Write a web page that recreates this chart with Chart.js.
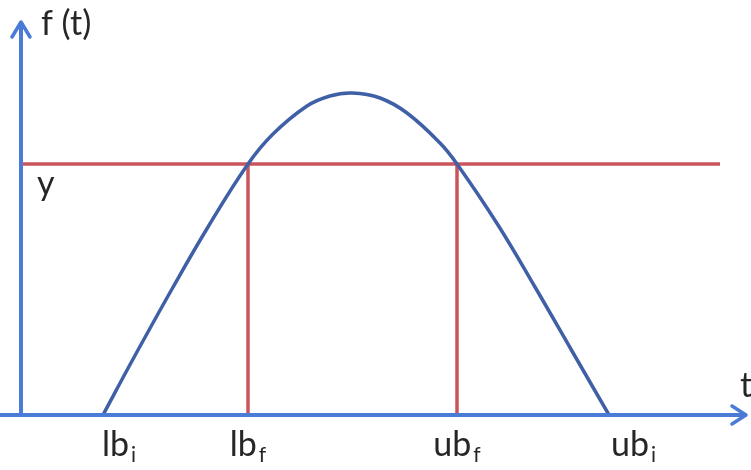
<!DOCTYPE html>
<html>
<head>
<meta charset="utf-8">
<script src="https://cdn.jsdelivr.net/npm/chart.js@4"></script>
<style>
  html,body{margin:0;padding:0;background:#fff}
  #wrap{width:751px;height:470px}
</style>
</head>
<body>
<div id="wrap"><canvas id="fig"></canvas></div>
<script>
// values (t across, f(t) up)
const curveT = [82,111,151,187,227,252,286,309,331,359,386,419,436,477,514,551,588];
const curveF = [0,54,126,188,251,281,309,319,322,317,302,272,251,190,128,64,0];
const levelY = 251;
const levelSpan = [1,699];
const bounds = [82,227,436,588];
const boundNames = [["lb","i"],["lb","f"],["ub","f"],["ub","i"]];
const axisNames = {t:"t", f:"f (t)", level:"y"};

const AXIS = "#4a7bd6", CURVE = "#3f5fa6", RED = "#c9545c", INK = "#262626";
const FONT = "Lato, 'Open Sans', sans-serif";

function seg(x0,y0,x1,y1){ return [{x:x0,y:y0},{x:x1,y:y1}]; }

const lineDs = (data,color,w) => ({
  data, showLine:true, borderColor:color, borderWidth:w,
  pointRadius:0, pointHoverRadius:0, fill:false, tension:0
});

const curve = lineDs(curveT.map((t,i)=>({x:t,y:curveF[i]})), CURVE, 3.5);
curve.tension = 0.4;

const datasets = [
  curve,
  lineDs(seg(levelSpan[0],levelY,levelSpan[1],levelY), RED, 3.5),
  lineDs(seg(bounds[1],0,bounds[1],levelY), RED, 3.5),
  lineDs(seg(bounds[2],0,bounds[2],levelY), RED, 3.5)
];

/* axes with arrows + labels */
const decor = {
  id:"decor",
  afterDatasetsDraw(chart){
    const c = chart.ctx, xs = chart.scales.x, ys = chart.scales.y;
    const x0 = xs.getPixelForValue(0), y0 = ys.getPixelForValue(0);
    const xEnd = xs.getPixelForValue(xs.max), yEnd = ys.getPixelForValue(ys.max);
    const xStart = xs.getPixelForValue(-21);
    c.save();
    c.strokeStyle = AXIS; c.lineWidth = 4; c.lineCap = "round"; c.lineJoin = "round";
    c.beginPath();
    c.moveTo(xStart,y0); c.lineTo(xEnd-2,y0);
    c.moveTo(x0,y0); c.lineTo(x0,yEnd+2);
    c.stroke();
    c.lineWidth = 3.5;
    c.beginPath();
    c.moveTo(xEnd-14,y0-9); c.lineTo(xEnd,y0); c.lineTo(xEnd-14,y0+9);
    c.moveTo(x0-9,yEnd+15); c.lineTo(x0,yEnd); c.lineTo(x0+9,yEnd+15);
    c.stroke();

    c.fillStyle = INK; c.textBaseline = "alphabetic";
    c.font = "34px " + FONT;
    c.textAlign = "left";
    c.fillText(axisNames.f, x0+20, yEnd+13);
    c.fillText(axisNames.t, xEnd-6, y0-18);
    c.fillText(axisNames.level, x0+16, ys.getPixelForValue(levelY)+31);

    const align = ["left","center","center","left"];
    const nudge = [-1,0,0,2];
    bounds.forEach((b,i)=>{
      const [main,sub] = boundNames[i];
      c.font = "34px " + FONT;
      const wm = c.measureText(main).width;
      c.font = "21px " + FONT;
      const ws = c.measureText(sub).width;
      const total = wm + 2 + ws;
      let left = xs.getPixelForValue(b) + nudge[i];
      if (align[i]==="center") left -= total/2;
      c.font = "34px " + FONT;
      c.fillText(main, left, y0+41);
      c.font = "21px " + FONT;
      c.fillText(sub, left+wm+2, y0+47);
    });
    c.restore();
  }
};

new Chart(document.getElementById("fig"), {
  type:"scatter",
  data:{ datasets },
  options:{
    responsive:true, maintainAspectRatio:false, animation:false,
    layout:{ padding:{left:21, top:22, right:5, bottom:55} },
    plugins:{ legend:{display:false}, tooltip:{enabled:false} },
    scales:{
      x:{ type:"linear", min:0, max:725, display:false },
      y:{ type:"linear", min:0, max:393, display:false }
    }
  },
  plugins:[decor]
});
</script>
</body>
</html>
